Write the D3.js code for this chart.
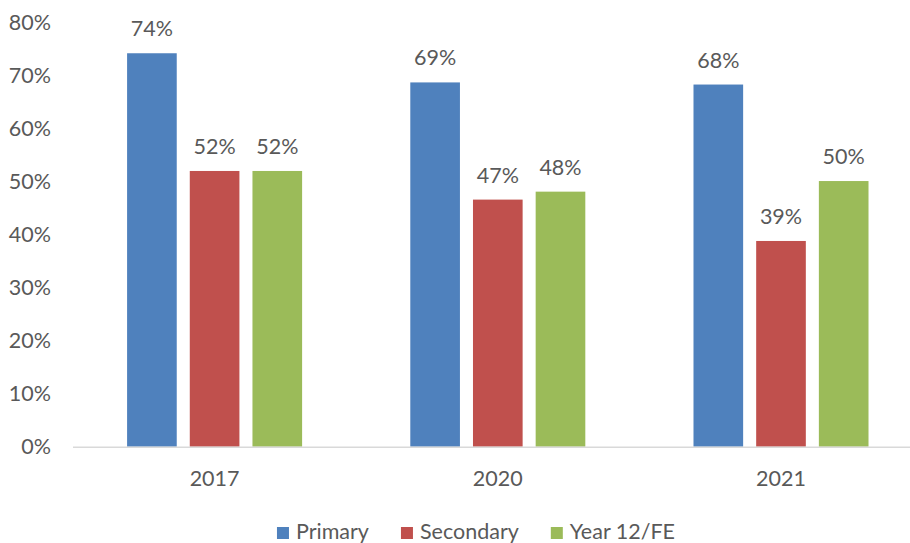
<!DOCTYPE html>
<html>
<head>
<meta charset="utf-8">
<script src="https://cdn.jsdelivr.net/npm/d3@7"></script>
<style>
  html, body { margin: 0; padding: 0; background: #fff; }
  svg { display: block; }
  text { font-family: Lato, "Open Sans", sans-serif; fill: #595959; }
</style>
</head>
<body>
<svg id="chart" width="910" height="543"></svg>
<script>
const categories = ["2017", "2020", "2021"];
const seriesNames = ["Primary", "Secondary", "Year 12/FE"];
const primary   = [0.742, 0.687, 0.683];
const secondary = [0.520, 0.466, 0.388];
const year12FE  = [0.520, 0.481, 0.501];
const yTicks = [0, 0.1, 0.2, 0.3, 0.4, 0.5, 0.6, 0.7, 0.8];
const colors = ["#4F81BD", "#C0504D", "#9BBB59"];

const seriesValues = [primary, secondary, year12FE];
const data = categories.map((c, i) => ({
  category: c,
  values: seriesNames.map((s, j) => ({ series: s, value: seriesValues[j][i], idx: j }))
}));

const svg = d3.select("#chart");
const fmt = d3.format(".0%");
const fs = "21.5px";

const x0 = d3.scaleBand().domain(categories).range([73, 922.6])
  .paddingInner(0.382).paddingOuter(0.191);
const x1 = d3.scaleBand().domain(seriesNames).range([0, x0.bandwidth()])
  .paddingInner(0.208).paddingOuter(0);
const y = d3.scaleLinear().domain([0, 0.8]).range([446.7, 22.5]);

// y tick labels
svg.append("g").selectAll("text").data(yTicks).join("text")
  .attr("x", 51).attr("y", d => y(d)).attr("dy", "0.36em")
  .attr("text-anchor", "end").style("font-size", fs)
  .text(d => fmt(d));

// bars
const groups = svg.append("g").selectAll("g").data(data).join("g")
  .attr("transform", d => `translate(${x0(d.category)},0)`);

groups.selectAll("rect").data(d => d.values).join("rect")
  .attr("x", d => x1(d.series))
  .attr("width", x1.bandwidth())
  .attr("y", d => y(d.value))
  .attr("height", d => y(0) - y(d.value))
  .attr("fill", d => colors[d.idx]);

groups.selectAll("text").data(d => d.values).join("text")
  .attr("x", d => x1(d.series) + x1.bandwidth() / 2)
  .attr("y", d => y(d.value) - 17)
  .attr("text-anchor", "middle").style("font-size", fs)
  .text(d => fmt(d.value));

// x axis line
svg.append("line")
  .attr("x1", 73).attr("x2", 910)
  .attr("y1", y(0) + 0.5).attr("y2", y(0) + 0.5)
  .attr("stroke", "#D9D9D9").attr("stroke-width", 1.5);

// x labels
svg.append("g").selectAll("text").data(categories).join("text")
  .attr("x", d => x0(d) + x0.bandwidth() / 2)
  .attr("y", 486)
  .attr("text-anchor", "middle").style("font-size", fs)
  .text(d => d);

// legend
const legend = svg.append("g");
const items = legend.selectAll("g").data(seriesNames).join("g");
items.append("rect").attr("width", 12).attr("height", 12).attr("y", 527)
  .attr("fill", (d, i) => colors[i]);
items.append("text").attr("x", 19).attr("y", 539)
  .style("font-size", fs).text(d => d);
const widths = [];
items.each(function() {
  widths.push(19 + d3.select(this).select("text").node().getComputedTextLength());
});
const gap = 32;
const total = widths.reduce((a, b) => a + b, 0) + gap * (widths.length - 1);
let start = 476 - total / 2;
items.attr("transform", (d, i) => {
  const t = `translate(${start},0)`;
  start += widths[i] + gap;
  return t;
});
</script>
</body>
</html>
